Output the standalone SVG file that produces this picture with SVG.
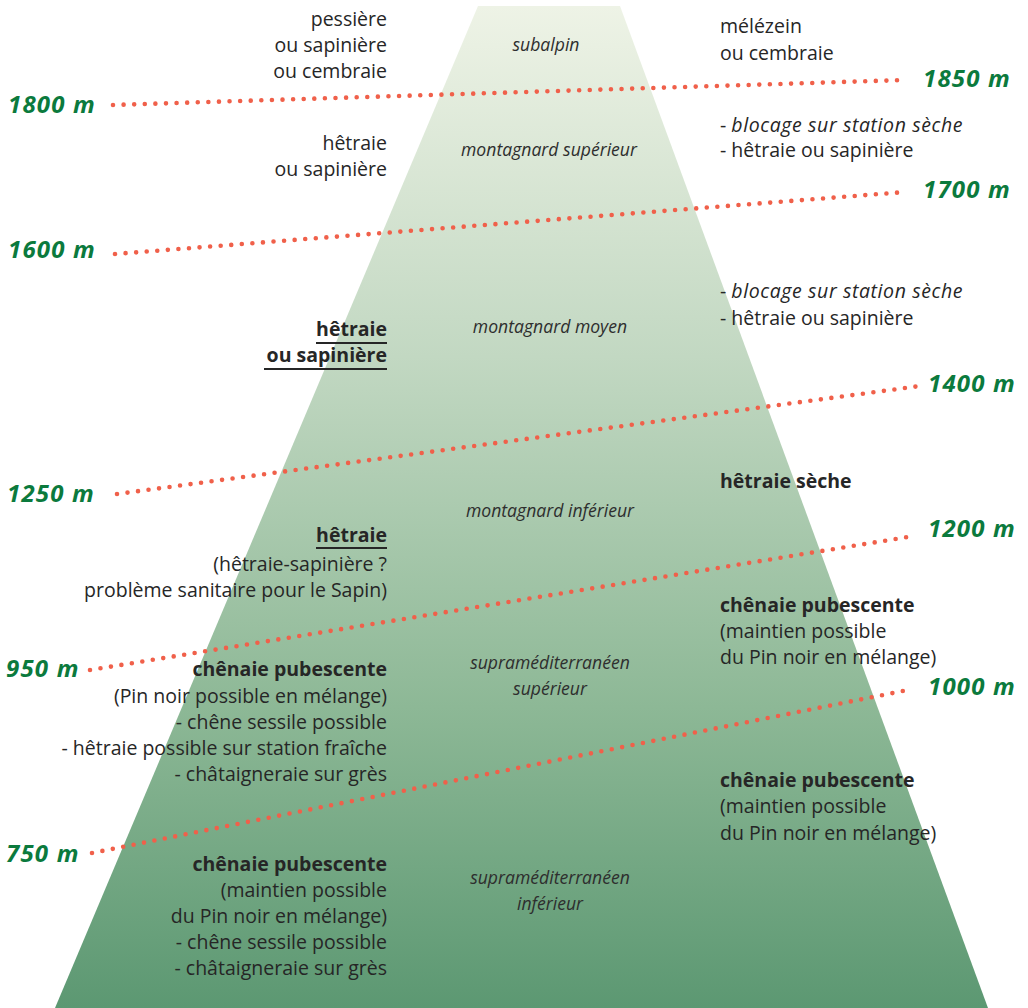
<svg xmlns="http://www.w3.org/2000/svg" width="1028" height="1008" viewBox="0 0 1028 1008">
  <defs>
    <linearGradient id="slope" x1="0" y1="0" x2="0" y2="1">
      <stop offset="0" stop-color="#eef3e6"/>
      <stop offset="0.35" stop-color="#c2d8c2"/>
      <stop offset="0.7" stop-color="#8db896"/>
      <stop offset="1" stop-color="#5c9872"/>
    </linearGradient>
    <style>
      text { font-family: "Open Sans", "Noto Sans", sans-serif; fill: #262626; }
      .body { font-size: 19.5px; }
      .left { text-anchor: end; }
      .bold { font-weight: bold; }
      .it { font-style: italic; letter-spacing: 0.6px; }
      .zone { font-size: 17.6px; font-style: italic; text-anchor: middle; fill: #2e2e2e; }
      .alt { font-size: 24px; letter-spacing: 1.2px; font-weight: bold; font-style: italic; fill: #0b7a3d; }
      .limit { fill: none; stroke: #f0604a; stroke-width: 4.6; stroke-linecap: round; stroke-dasharray: 0 10.6; }
      .ul { stroke: #262626; stroke-width: 2; }
    </style>
  </defs>

  <rect width="1028" height="1008" fill="#ffffff"/>

  <!-- vegetation belts: the mountain -->
  <g id="mountain">
    <polygon points="478,6 620,6 988,1008 55,1008" fill="url(#slope)"/>
  </g>

  <!-- belt limits (dotted, left altitude to right altitude) -->
  <g id="limits">
    <line class="limit" x1="113" y1="105" x2="905" y2="80"/>
    <line class="limit" x1="115" y1="254" x2="905" y2="192"/>
    <line class="limit" x1="117" y1="494" x2="920" y2="386"/>
    <line class="limit" x1="90" y1="670" x2="908" y2="537"/>
    <line class="limit" x1="92" y1="853" x2="913" y2="689"/>
  </g>

  <!-- altitude labels -->
  <g id="altitudes">
    <text class="alt" x="8" y="113">1800 m</text>
    <text class="alt" x="923" y="87">1850 m</text>
    <text class="alt" x="8" y="258">1600 m</text>
    <text class="alt" x="923" y="198">1700 m</text>
    <text class="alt" x="7" y="502">1250 m</text>
    <text class="alt" x="928" y="392">1400 m</text>
    <text class="alt" x="6" y="677">950 m</text>
    <text class="alt" x="928" y="537">1200 m</text>
    <text class="alt" x="6" y="862">750 m</text>
    <text class="alt" x="928" y="695">1000 m</text>
  </g>

  <!-- belt names -->
  <g id="belt-subalpin"><text class="zone" x="546" y="51">subalpin</text></g>
  <g id="belt-montagnard-superieur"><text class="zone" x="549" y="156">montagnard supérieur</text></g>
  <g id="belt-montagnard-moyen"><text class="zone" x="550" y="333">montagnard moyen</text></g>
  <g id="belt-montagnard-inferieur"><text class="zone" x="550" y="517">montagnard inférieur</text></g>
  <g id="belt-supramed-superieur">
    <text class="zone" x="550" y="669">supraméditerranéen</text>
    <text class="zone" x="550" y="695">supérieur</text>
  </g>
  <g id="belt-supramed-inferieur">
    <text class="zone" x="550" y="884">supraméditerranéen</text>
    <text class="zone" x="550" y="910">inférieur</text>
  </g>

  <!-- north / cool-side stands (left column) -->
  <g id="left-subalpin">
    <text class="body left" x="387" y="26">pessière</text>
    <text class="body left" x="387" y="52">ou sapinière</text>
    <text class="body left" x="387" y="78">ou cembraie</text>
  </g>
  <g id="left-montagnard-superieur">
    <text class="body left" x="387" y="150">hêtraie</text>
    <text class="body left" x="387" y="176">ou sapinière</text>
  </g>
  <g id="left-montagnard-moyen">
    <text class="body left bold" x="387" y="336">hêtraie</text>
    <text class="body left bold" x="387" y="362">ou sapinière</text>
    <line class="ul" x1="316" y1="343" x2="387" y2="343"/>
    <line class="ul" x1="264" y1="369" x2="387" y2="369"/>
  </g>
  <g id="left-montagnard-inferieur">
    <text class="body left bold" x="387" y="542">hêtraie</text>
    <line class="ul" x1="316" y1="548" x2="387" y2="548"/>
    <text class="body left" x="387" y="571">(hêtraie-sapinière ?</text>
    <text class="body left" x="387" y="597">problème sanitaire pour le Sapin)</text>
  </g>
  <g id="left-supramed-superieur">
    <text class="body left bold" x="387" y="676">chênaie pubescente</text>
    <text class="body left" x="387" y="703">(Pin noir possible en mélange)</text>
    <text class="body left" x="387" y="729">- chêne sessile possible</text>
    <text class="body left" x="387" y="755">- hêtraie possible sur station fraîche</text>
    <text class="body left" x="387" y="781">- châtaigneraie sur grès</text>
  </g>
  <g id="left-supramed-inferieur">
    <text class="body left bold" x="387" y="871">chênaie pubescente</text>
    <text class="body left" x="387" y="897">(maintien possible</text>
    <text class="body left" x="387" y="923">du Pin noir en mélange)</text>
    <text class="body left" x="387" y="949">- chêne sessile possible</text>
    <text class="body left" x="387" y="975">- châtaigneraie sur grès</text>
  </g>

  <!-- south / dry-side stands (right column) -->
  <g id="right-subalpin">
    <text class="body" x="720" y="33">mélézein</text>
    <text class="body" x="720" y="60">ou cembraie</text>
  </g>
  <g id="right-montagnard-superieur">
    <text class="body" x="720" y="132">- <tspan class="it">blocage sur station sèche</tspan></text>
    <text class="body" x="720" y="157">- hêtraie ou sapinière</text>
  </g>
  <g id="right-montagnard-moyen">
    <text class="body" x="720" y="298">- <tspan class="it">blocage sur station sèche</tspan></text>
    <text class="body" x="720" y="325">- hêtraie ou sapinière</text>
  </g>
  <g id="right-montagnard-inferieur">
    <text class="body bold" x="720" y="488">hêtraie sèche</text>
  </g>
  <g id="right-supramed-superieur">
    <text class="body bold" x="720" y="612">chênaie pubescente</text>
    <text class="body" x="720" y="638">(maintien possible</text>
    <text class="body" x="720" y="664">du Pin noir en mélange)</text>
  </g>
  <g id="right-supramed-inferieur">
    <text class="body bold" x="720" y="787">chênaie pubescente</text>
    <text class="body" x="720" y="813">(maintien possible</text>
    <text class="body" x="720" y="840">du Pin noir en mélange)</text>
  </g>
</svg>
